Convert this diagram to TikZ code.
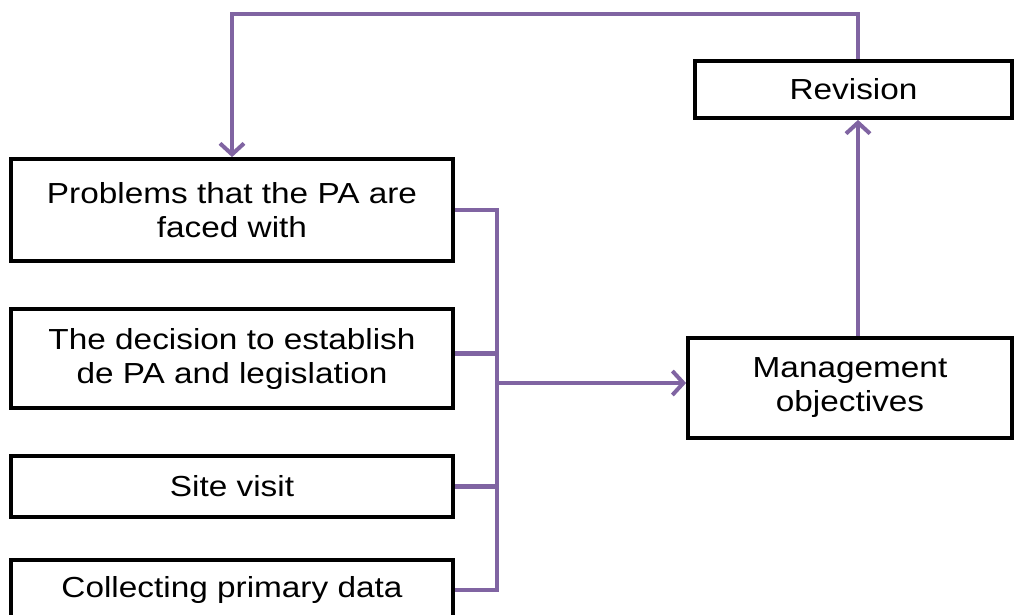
\documentclass[tikz,border=0pt]{standalone}
\usepackage{fontspec}
\setmainfont[FakeStretch=1.15]{Liberation Sans}
\usetikzlibrary{arrows.meta}
\definecolor{lpurple}{RGB}{128,100,162}
\begin{document}
\begin{tikzpicture}[x=1pt,y=-1pt,
  box/.style={draw=black,line width=3.8pt,fill=white,align=center,inner sep=0pt,
    font=\fontsize{29}{34}\selectfont},
  link/.style={draw=lpurple,line width=4.2pt},
  arr/.style={link,-{Straight Barb[length=11pt,width=24pt,line width=4pt]}}]
\useasboundingbox (0,0) rectangle (1014,614);
\clip (0,0) rectangle (1014,614);
\fill[white] (0,0) rectangle (1014,614);
\coordinate (vx) at (858,0);
\coordinate (bx) at (497,0);
\coordinate (top) at (0,14);
\node[box,minimum width=442pt,minimum height=102pt] (prob) at (232,210) {Problems that the PA are\\faced with};
\node[box,minimum width=442pt,minimum height=99pt] (dec) at (232,358.5) {The decision to establish\\de PA and legislation};
\node[box,minimum width=442pt,minimum height=61pt] (site) at (232,486.5) {Site visit};
\node[box,minimum width=442pt,minimum height=60pt] (coll) at (232,590) {Collecting primary data};
\node[box,minimum width=324pt,minimum height=100pt] (mgmt) at (850,388) {Management\\objectives};
\node[box,minimum width=317pt,minimum height=57pt] (rev) at (853.5,89.5) {Revision};
% bracket
\draw[link] (prob.east) -- (prob.east -| bx) -- (coll.east -| bx) -- (coll.east);
\draw[link] ([yshift=5pt]dec.east) -- ([yshift=5pt]dec.east -| bx);
\draw[link] (site.east) -- (site.east -| bx);
\draw[arr] ([yshift=5pt]mgmt.west -| bx) -- ([yshift=5pt]mgmt.west);
% feedback
\draw[arr] (mgmt.north -| vx) -- (rev.south -| vx);
\draw[arr] (rev.north -| vx) -- (top -| vx) -- (top -| prob.north) -- (prob.north);
\end{tikzpicture}
\end{document}
